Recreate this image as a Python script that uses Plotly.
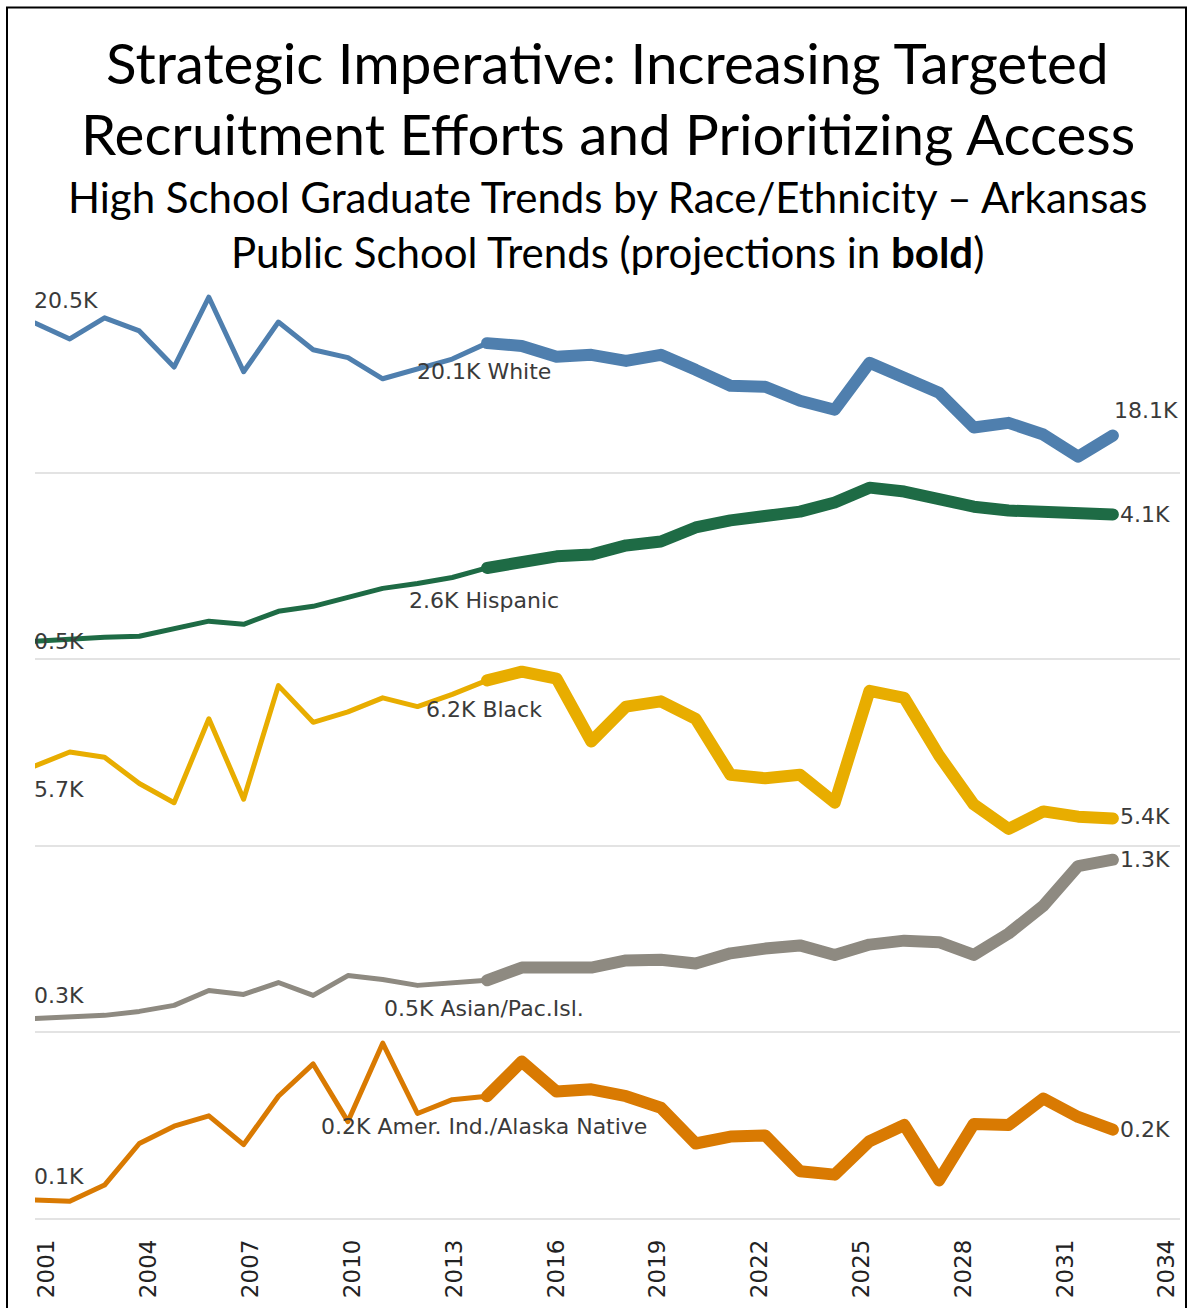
import plotly.graph_objects as go

years = list(range(2001, 2033))
proj_start = 2014

white = [20500, 20160, 20610, 20330, 19560, 21050, 19460, 20520, 19930, 19760, 19310, 19520,
         19730, 20070, 20010, 19780, 19820, 19690, 19820, 19500, 19160, 19140, 18840, 18650,
         19650, 19330, 19010, 18270, 18370, 18120, 17650, 18100]
hispanic = [500, 560, 610, 640, 840, 1070, 980, 1350, 1490, 1750, 2000, 2140, 2310, 2580,
            2740, 2910, 2960, 3220, 3330, 3730, 3930, 4070, 4180, 4440, 4860, 4750, 4520,
            4320, 4210, 4150, 4130, 4100]
black = [5700, 5780, 5750, 5600, 5490, 5970, 5510, 6160, 5950, 6010, 6090, 6040, 6110, 6190,
         6240, 6200, 5840, 6040, 6070, 5970, 5650, 5630, 5650, 5490, 6130, 6090, 5760, 5480,
         5340, 5440, 5410, 5400]
asian = [300, 306, 319, 344, 382, 476, 451, 526, 445, 570, 545, 508, 526, 540, 620, 620, 620,
         665, 670, 646, 710, 740, 760, 700, 765, 790, 780, 700, 835, 1010, 1260, 1300]
aian = [105, 104, 118, 154, 169, 178, 153, 195, 223, 173, 241, 180, 192, 195, 225, 199, 201,
        195, 185, 154, 160, 161, 130, 127, 156, 170, 122, 171, 170, 193, 177, 166]

series_names = ["White", "Hispanic", "Black", "Asian/Pac.Isl.", "Amer. Ind./Alaska Native"]
series_values = [white, hispanic, black, asian, aian]
colors = ["#4F7FAE", "#1E6B45", "#E8AD00", "#8E8A81", "#D97A02"]
y_ranges = [[17330, 21310], [18, 5316], [5249, 6317], [218, 1394], [89.4, 251.2]]
tick_years = list(range(2001, 2035, 3))

# label offsets (styling)
start_shift = [22, 0, -23, 23, 24]
mid_shift = [-28, -33, -29, -28, -30]
end_style = [(-1, 25), (5, 0), (5, 2), (5, 0), (5, 0)]

fig = go.Figure()
annotations = []
n = len(series_names)
label_font = dict(family="DejaVu Sans, sans-serif", size=22, color="#3a3a3a")

for i, (name, vals, col) in enumerate(zip(series_names, series_values, colors)):
    k = i + 1
    xa = "x" if k == 1 else f"x{k}"
    ya = "y" if k == 1 else f"y{k}"
    ps = years.index(proj_start)
    fig.add_trace(go.Scatter(x=years[:ps + 1], y=vals[:ps + 1], mode="lines",
                             line=dict(color=col, width=5), xaxis=xa, yaxis=ya,
                             showlegend=False, hoverinfo="x+y"))
    fig.add_trace(go.Scatter(x=years[ps:], y=vals[ps:], mode="lines",
                             line=dict(color=col, width=12), xaxis=xa, yaxis=ya,
                             showlegend=False, hoverinfo="x+y"))
    annotations.append(dict(x=years[0], y=vals[0], xref=xa, yref=ya,
                            text=f"{vals[0]/1000:.1f}K", showarrow=False,
                            xanchor="left", yanchor="middle", xshift=-3,
                            yshift=start_shift[i], font=label_font))
    annotations.append(dict(x=years[ps], y=vals[ps], xref=xa, yref=ya,
                            text=f"{vals[ps]/1000:.1f}K {name}", showarrow=False,
                            xanchor="center", yanchor="middle", xshift=-3,
                            yshift=mid_shift[i], font=label_font))
    annotations.append(dict(x=years[-1], y=vals[-1], xref=xa, yref=ya,
                            text=f"{vals[-1]/1000:.1f}K", showarrow=False,
                            xanchor="left", yanchor="middle", xshift=end_style[i][0],
                            yshift=end_style[i][1], font=label_font))

fig.add_trace(go.Scatter(x=[2001, 2034], y=[None, None], xaxis="x6", yaxis="y5",
                         showlegend=False, hoverinfo="skip", mode="lines"))

layout = dict(
    width=1190, height=1308,
    margin=dict(l=35, r=10, t=285, b=88),
    paper_bgcolor="white", plot_bgcolor="white",
    showlegend=False,
)
domains = [[0.8, 1.0], [0.6, 0.8], [0.4, 0.6], [0.2, 0.4], [0.0, 0.2]]
for i in range(n):
    k = i + 1
    xkey = "xaxis" if k == 1 else f"xaxis{k}"
    ykey = "yaxis" if k == 1 else f"yaxis{k}"
    layout[xkey] = dict(domain=[0, 1], anchor="y" if k == 1 else f"y{k}",
                        range=[2001, 2033.93], showticklabels=False, ticks="",
                        showgrid=False, zeroline=False, showline=True,
                        linecolor="#E3E3E3", linewidth=2, fixedrange=True)
    layout[ykey] = dict(domain=domains[i], anchor="x" if k == 1 else f"x{k}",
                        range=y_ranges[i], showticklabels=False, ticks="",
                        showgrid=False, zeroline=False, showline=False, fixedrange=True)
layout["xaxis6"] = dict(overlaying="x5", anchor="y5", side="bottom",
                        range=[2000.646, 2034.382], tickmode="array",
                        tickvals=tick_years, ticktext=[str(t) for t in tick_years],
                        tickangle=-90, ticks="", ticklabelstandoff=16,
                        showgrid=False, zeroline=False, showline=False,
                        tickfont=dict(family="DejaVu Sans, sans-serif", size=23, color="#222222"))

title_font = "Lato, Noto Sans, sans-serif"
H = 935.0
def py(p):
    return (1220 - p) / H

title_lines = [
    ("Strategic Imperative: Increasing Targeted", 62, 56.5),
    ("Recruitment Efforts and Prioritizing Access", 133, 56.5),
    ("High School Graduate Trends by Race/Ethnicity \u2013 Arkansas", 197, 42),
    ("Public School Trends (projections in <b>bold</b>)", 252, 42),
]
for txt, p, sz in title_lines:
    annotations.append(dict(x=0.5, y=py(p), xref="paper", yref="paper", text=txt,
                            showarrow=False, xanchor="center", yanchor="middle",
                            font=dict(family=title_font, size=sz, color="#000000")))

layout["annotations"] = annotations
layout["shapes"] = [dict(type="rect", xref="paper", yref="paper",
                         x0=(7 - 35) / 1145, x1=(1186 - 35) / 1145,
                         y0=py(1330), y1=py(7),
                         line=dict(color="black", width=2), fillcolor="rgba(0,0,0,0)",
                         layer="above")]
fig.update_layout(**layout)

post = ("document.body.style.margin='0';document.body.style.padding='0';"
        "document.querySelectorAll('.scatterlayer .js-line').forEach(function(p){"
        "p.style.strokeLinejoin='round';p.style.strokeLinecap='round';});")
fig.write_html("out.html", config={"displayModeBar": False}, post_script=post)
